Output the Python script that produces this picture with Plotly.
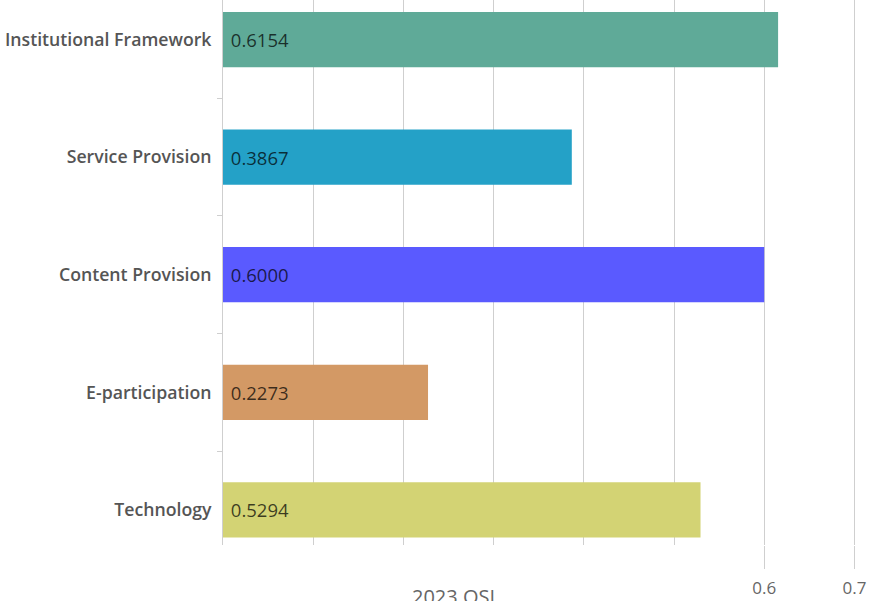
import plotly.graph_objects as go

categories = ["Institutional Framework", "Service Provision", "Content Provision",
              "E-participation", "Technology"]
values = [0.6154, 0.3867, 0.6000, 0.2273, 0.5294]
colors = ["#5faa98", "#24a1c7", "#5a5aff", "#d39965", "#d3d374"]
axis_title = "2023 OSI"
grid_ticks = [0, 0.1, 0.2, 0.3, 0.4, 0.5, 0.6, 0.7]
shown_ticks = [0.6, 0.7]

fig = go.Figure()
fig.add_trace(go.Bar(
    y=categories, x=values, orientation="h",
    marker=dict(color=colors, line=dict(width=0)),
    width=0.47,
    text=[f" {v:.4f}" for v in values],
    textposition="inside", insidetextanchor="start",
    textfont=dict(family="Open Sans", size=18.5, color="rgba(0,0,0,0.72)"),
    hoverinfo="skip", showlegend=False,
))
# invisible trace to carry the secondary x-axis
fig.add_trace(go.Scatter(x=[None], y=[None], xaxis="x2", showlegend=False, hoverinfo="skip"))

xr = [0, 0.7439]
fig.update_layout(
    width=894, height=601,
    margin=dict(l=223, r=0, t=0, b=56),
    plot_bgcolor="white", paper_bgcolor="white",
    xaxis=dict(range=xr, tickvals=grid_ticks, showticklabels=False,
               showgrid=True, gridcolor="#cfcfcf", gridwidth=1,
               zeroline=False, showline=False, ticks=""),
    xaxis2=dict(range=xr, overlaying="x", side="bottom", anchor="y",
                tickvals=shown_ticks, ticktext=["0.6", "0.7"],
                ticks="outside", ticklen=23, tickcolor="#cfcfcf", tickwidth=1,
                ticklabelstandoff=5,
                showgrid=False, zeroline=False, showline=False,
                tickfont=dict(family="Open Sans", size=17, color="#666666")),
    yaxis=dict(categoryorder="array", categoryarray=categories[::-1],
               range=[-0.298, 4.336],
               showline=True, linecolor="#cfcfcf", linewidth=1,
               ticks="outside", tickson="boundaries", ticklen=5, tickcolor="#cfcfcf",
               ticklabelstandoff=7,
               showgrid=False, zeroline=False,
               tickfont=dict(family="Open Sans", size=17.7, color="#555555",
                             weight=600)),
    annotations=[dict(text=axis_title, xref="paper", yref="paper",
                      x=0.343, y=-0.066, xanchor="center", yanchor="top",
                      showarrow=False,
                      font=dict(family="Open Sans", size=20, color="#666666"))],
)

fig.write_html("out.html", config={"displayModeBar": False},
               post_script="document.body.style.margin='0';")
